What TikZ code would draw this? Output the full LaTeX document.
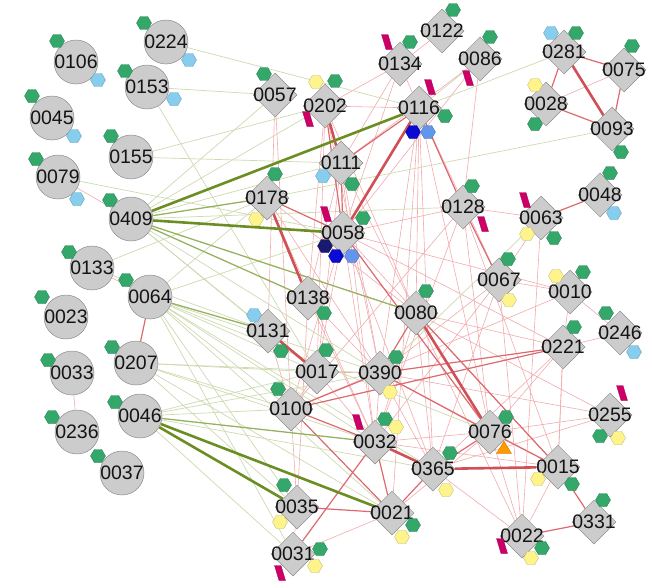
\documentclass[tikz,border=0pt]{standalone}
\usepackage{fontspec}
\setmainfont{Liberation Sans}
\usetikzlibrary{shapes.geometric,backgrounds}
\definecolor{nodefill}{RGB}{204,204,204}
\definecolor{nodeline}{RGB}{140,140,140}
\definecolor{hgreen}{RGB}{52,168,107}
\definecolor{hlblue}{RGB}{135,205,238}
\definecolor{hyellow}{RGB}{255,244,140}
\definecolor{hdblue}{RGB}{10,10,210}
\definecolor{hnavy}{RGB}{25,25,112}
\definecolor{hcorn}{RGB}{100,149,237}
\definecolor{hmag}{RGB}{204,0,102}
\definecolor{horange}{RGB}{255,153,0}
\definecolor{gdark}{RGB}{107,142,35}
\definecolor{gmid}{RGB}{150,178,95}
\definecolor{glight}{RGB}{205,218,175}
\definecolor{rdark}{RGB}{208,80,85}
\definecolor{rmid}{RGB}{220,105,110}
\definecolor{rlight}{RGB}{242,170,172}
\newcounter{hk}
\newcommand{\hx}[3]{\stepcounter{hk}\node[hexa,fill=#1,draw=#1!75!black] (h\thehk) at (#2,#3) {};}
\newcommand{\mg}[2]{\filldraw[fill=hmag,draw=hmag!80!black,line width=0.3pt,shift={(#1,#2)}] (-5.5,-7.5) -- (1,-7.5) -- (5.5,7.5) -- (-1,7.5) -- cycle;}
\newcommand{\Dn}[3]{\node[dia] (n#1) at (#2,#3) {}; \node[lbl] (t#1) at (#2,#3) {#1};}
\newcommand{\Cn}[3]{\node[circ] (n#1) at (#2,#3) {}; \node[lbl] (t#1) at (#2,#3) {#1};}
\begin{document}
\begin{tikzpicture}[x=1pt,y=-1pt,
  dia/.style={shape=diamond,aspect=1,minimum width=44pt,minimum height=44pt,inner sep=0pt,fill=nodefill,draw=nodeline,line width=0.5pt},
  circ/.style={shape=circle,minimum size=44pt,inner sep=0pt,fill=nodefill,draw=nodeline,line width=0.5pt},
  lbl/.style={inner sep=0pt,font=\fontsize{19.5}{19.5}\selectfont,text=black!92},
  hexa/.style={regular polygon,regular polygon sides=6,minimum size=15pt,inner sep=0pt,line width=0.3pt},
  rthick/.style={draw=rdark,line width=2.6pt},
  rmed/.style={draw=rmid,line width=1.2pt},
  rthin/.style={draw=rlight,line width=0.6pt},
  gthick/.style={draw=gdark,line width=2.6pt},
  gmed/.style={draw=gmid,line width=1.3pt},
  gthin/.style={draw=glight,line width=0.7pt}]
\useasboundingbox (0,0) rectangle (652,587);
% circle nodes
\Cn{0106}{76}{62}
\Cn{0224}{166}{42}
\Cn{0153}{147}{87}
\Cn{0045}{52}{118}
\Cn{0155}{131}{157}
\Cn{0079}{58}{177}
\Cn{0409}{131}{219}
\Cn{0133}{92}{268}
\Cn{0064}{150}{297}
\Cn{0023}{66}{317}
\Cn{0207}{136}{363}
\Cn{0033}{72}{373}
\Cn{0236}{77}{432}
\Cn{0046}{140}{416}
\Cn{0037}{122}{473}
% diamond nodes
\Dn{0057}{275}{95}
\Dn{0202}{325}{106}
\Dn{0134}{400}{64}
\Dn{0122}{442}{31}
\Dn{0086}{480}{59}
\Dn{0116}{419}{108}
\Dn{0281}{564}{52}
\Dn{0075}{624}{70}
\Dn{0028}{546}{104}
\Dn{0093}{612}{129}
\Dn{0111}{341}{163}
\Dn{0178}{267}{198}
\Dn{0058}{343}{233}
\Dn{0128}{463}{207}
\Dn{0063}{541}{218}
\Dn{0048}{600}{195}
\Dn{0067}{499}{280}
\Dn{0010}{570}{292}
\Dn{0246}{620}{333}
\Dn{0221}{563}{347}
\Dn{0138}{308}{298}
\Dn{0131}{268}{331}
\Dn{0080}{416}{313}
\Dn{0017}{317}{372}
\Dn{0390}{380}{373}
\Dn{0100}{291}{409}
\Dn{0032}{375}{442}
\Dn{0365}{433}{469}
\Dn{0076}{490}{432}
\Dn{0015}{558}{467}
\Dn{0255}{610}{415}
\Dn{0331}{594}{522}
\Dn{0022}{522}{536}
\Dn{0035}{297}{507}
\Dn{0021}{392}{513}
\Dn{0031}{293}{554}
\begin{pgfonlayer}{background}
% thin red
\foreach \a/\b in {0202/0134,0202/0116,0134/0111,0134/0058,0134/0116,0086/0058,0086/0111,
  0116/0067,0116/0080,0116/0390,0116/0076,0116/0365,0111/0138,0111/0080,0111/0017,0111/0390,
  0202/0138,0202/0017,0202/0080,0202/0390,0057/0100,0057/0131,0058/0017,0058/0100,0058/0032,
  0058/0365,0058/0015,0058/0010,0058/0221,0058/0128,0178/0390,0178/0080,0178/0032,0128/0063,
  0128/0032,0128/0100,0128/0015,0067/0063,0067/0032,0067/0390,0067/0365,0067/0022,0010/0221,
  0010/0246,0221/0246,0010/0100,0221/0076,0221/0365,0221/0015,0255/0076,0255/0390,0255/0080,
  0255/0365,0080/0365,0080/0032,0080/0221,0390/0032,0390/0365,0390/0015,0017/0032,0017/0390,
  0017/0100,0100/0035,0138/0032,0138/0390,0131/0100,0032/0015,0032/0076,0035/0031,0031/0021,
  0021/0076,0022/0076,0022/0365,0022/0015,0015/0221,0028/0075,0067/0010,0086/0128,0122/0134,
  0116/0021,0111/0032,0138/0035,0128/0076,0063/0022,0080/0022}
  \draw[rthin] (n\a) -- (n\b);
\draw[rthin] (n0079) -- (n0409);
\draw[rthin] (n0133) -- (n0064);
\draw[rthin] (n0033) -- (n0236);
% thin green
\foreach \a/\b in {0409/0202,0409/0111,0409/0057,0409/0390,0409/0017,0409/0131,0409/0128,
  0155/0111,0155/0202,0153/0057,0153/0017,0224/0116,0079/0058,0133/0178,0133/0131,
  0064/0178,0064/0058,0064/0017,0064/0100,0064/0390,0064/0032,0064/0035,0064/0021,0064/0031,
  0064/0365,0064/0076,0207/0100,0207/0017,0207/0032,0207/0390,0207/0035,0207/0021,
  0046/0100,0046/0390,0046/0031,0046/0365,0046/0017,0093/0178,0281/0116,0086/0116,0063/0390}
  \draw[gthin] (n\a) -- (n\b);
% medium red
\foreach \a/\b in {0116/0111,0202/0058,0111/0058,0058/0076,0390/0221,0390/0076,0100/0032,
  0100/0021,0032/0021,0032/0031,0035/0021,0015/0331,0022/0331,0076/0015,0128/0067,0063/0048,
  0281/0075,0075/0093,0028/0093,0281/0028,0080/0390,0080/0015,0178/0058,0390/0100,0365/0076,
  0021/0365,0116/0128,0100/0221}
  \draw[rmed] (n\a) -- (n\b);
\draw[rmed] (n0064) -- (n0207);
% medium green
\foreach \a/\b in {0409/0178,0409/0080,0409/0138,0064/0131,0046/0032}
  \draw[gmed] (n\a) -- (n\b);
% thick red
\foreach \a/\b in {0116/0058,0202/0111,0178/0138,0131/0017,0080/0076,0032/0365,0365/0015,0281/0093}
  \draw[rthick] (n\a) -- (n\b);
% thick green
\foreach \a/\b in {0409/0116,0409/0058,0046/0021,0046/0035}
  \draw[gthick] (n\a) -- (n\b);
\end{pgfonlayer}
% decorations: circles
\hx{hgreen}{57}{41} \hx{hlblue}{98}{80}
\hx{hgreen}{144}{23} \hx{hlblue}{189}{60}
\hx{hgreen}{125}{71} \hx{hlblue}{174}{99}
\hx{hgreen}{32}{96} \hx{hlblue}{74}{136}
\hx{hgreen}{111}{136}
\hx{hgreen}{36}{159} \hx{hlblue}{77}{199}
\hx{hgreen}{110}{200}
\hx{hgreen}{69}{252}
\hx{hgreen}{126}{280}
\hx{hgreen}{42}{297}
\hx{hgreen}{112}{347}
\hx{hgreen}{48}{360}
\hx{hgreen}{52}{417}
\hx{hgreen}{115}{402}
\hx{hgreen}{98}{456}
% decorations: diamonds
\hx{hgreen}{264}{74}
\hx{hyellow}{316}{82} \hx{hgreen}{335}{81} \mg{308}{119}
\mg{387}{42} \hx{hgreen}{410}{42}
\hx{hgreen}{453}{10}
\hx{hgreen}{490}{37} \mg{468}{78}
\mg{430}{87} \hx{hgreen}{445}{116} \hx{hdblue}{413}{132} \hx{hcorn}{428}{132}
\hx{hlblue}{551}{33} \hx{hgreen}{576}{33}
\hx{hgreen}{632}{46}
\hx{hyellow}{535}{85} \hx{hgreen}{535}{124}
\hx{hgreen}{621}{152}
\hx{hgreen}{610}{173} \hx{hlblue}{614}{213}
\hx{hlblue}{323}{176} \hx{hgreen}{352}{184}
\hx{hgreen}{275}{174} \hx{hyellow}{256}{219}
\mg{326}{214} \hx{hgreen}{363}{218} \hx{hnavy}{325}{246} \hx{hdblue}{336}{256} \hx{hcorn}{352}{256}
\hx{hgreen}{472}{186} \mg{483}{224}
\mg{525}{200} \hx{hyellow}{527}{234} \hx{hgreen}{554}{238}
\hx{hgreen}{508}{259} \hx{hyellow}{509}{300}
\hx{hyellow}{556}{276} \hx{hgreen}{583}{272}
\hx{hgreen}{606}{313} \hx{hlblue}{634}{352}
\hx{hgreen}{574}{327}
\hx{hgreen}{324}{313}
\hx{hlblue}{254}{315} \hx{hgreen}{281}{351}
\hx{hgreen}{426}{291}
\hx{hgreen}{326}{350}
\hx{hgreen}{396}{357} \hx{hyellow}{390}{392}
\hx{hgreen}{278}{389}
\mg{358}{422} \hx{hgreen}{385}{419} \hx{hyellow}{396}{427}
\hx{hgreen}{450}{453} \hx{hyellow}{446}{490}
\hx{hgreen}{506}{417}
\filldraw[fill=horange,draw=horange!80!black,line width=0.3pt,shift={(504,448)}] (-7.5,5.5) -- (7.5,5.5) -- (0,-7) -- cycle;
\hx{hyellow}{538}{479} \hx{hgreen}{572}{484}
\mg{622}{393} \hx{hgreen}{600}{436} \hx{hyellow}{618}{438}
\hx{hgreen}{603}{500}
\mg{502}{546} \hx{hgreen}{542}{548} \hx{hyellow}{531}{558}
\hx{hgreen}{284}{485} \hx{hyellow}{280}{522}
\hx{hgreen}{413}{525} \hx{hyellow}{402}{537}
\hx{hgreen}{320}{549} \hx{hyellow}{315}{566} \mg{280}{573}
\end{tikzpicture}
\end{document}
